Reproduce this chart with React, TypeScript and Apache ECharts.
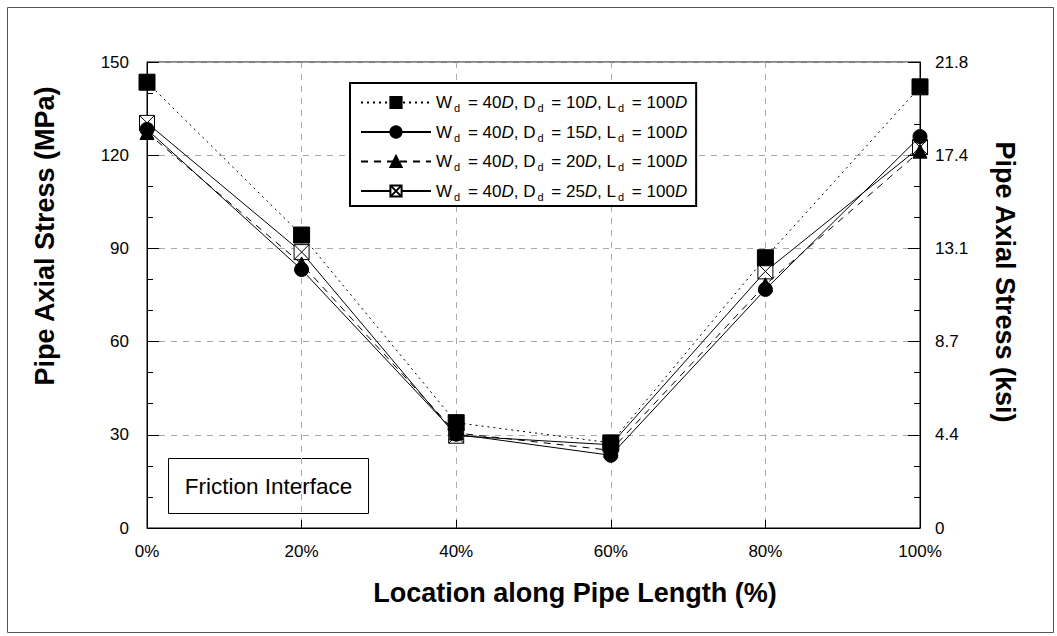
import React, { useEffect, useRef } from "react";
import * as echarts from "echarts";

const xPositions = [0, 20, 40, 60, 80, 100];
const seriesD10 = [143.5, 94.3, 33.9, 27.4, 87.0, 142.0];
const seriesD15 = [128.3, 83.2, 30.2, 23.4, 76.8, 126.0];
const seriesD20 = [127.3, 85.0, 30.6, 25.0, 78.3, 121.3];
const seriesD25 = [130.4, 88.8, 29.7, 26.8, 82.6, 122.6];
const seriesNames = [
  "W{sub|d} = 40{it|D}, D{sub|d} = 10{it|D}, L{sub|d} = 100{it|D}",
  "W{sub|d} = 40{it|D}, D{sub|d} = 15{it|D}, L{sub|d} = 100{it|D}",
  "W{sub|d} = 40{it|D}, D{sub|d} = 20{it|D}, L{sub|d} = 100{it|D}",
  "W{sub|d} = 40{it|D}, D{sub|d} = 25{it|D}, L{sub|d} = 100{it|D}",
];
const ksiLabels = ["0", "4.4", "8.7", "13.1", "17.4", "21.8"];
const xTitle = "Location along Pipe Length (%)";
const yLeftTitle = "Pipe Axial Stress (MPa)";
const yRightTitle = "Pipe Axial Stress (ksi)";
const noteText = "Friction Interface";

const boxX = "path://M0,0 L10,0 L10,10 L0,10 Z M0,0 L10,10 M10,0 L0,10";

export default function App() {
  const ref = useRef<HTMLDivElement>(null);
  useEffect(() => {
    const chart = echarts.init(ref.current!, null, { renderer: "svg" });
    const font = "Liberation Sans, Arial, sans-serif";
    const pair = (arr: number[]) => arr.map((v, i) => [xPositions[i], v]);
    const lines: any[] = [
      { data: seriesD10, symbol: "rect", size: 16, line: [2, 4], fill: "#000" },
      { data: seriesD15, symbol: "circle", size: 14, line: "solid", fill: "#000" },
      { data: seriesD20, symbol: "triangle", size: 14, line: [7, 6], fill: "#000" },
      { data: seriesD25, symbol: boxX, size: 15, line: "solid", fill: "#fff" },
    ];
    const titleFont = `bold 27px ${font}`;
    chart.setOption({
      animation: false,
      textStyle: { fontFamily: font },
      grid: {
        left: 147,
        right: 137,
        top: 62,
        bottom: 108,
        show: true,
        borderColor: "#000",
        borderWidth: 1,
      },
      legend: {
        orient: "vertical",
        left: 350,
        top: 83,
        padding: [11, 9, 4, 10],
        backgroundColor: "#fff",
        borderColor: "#000",
        borderWidth: 2,
        itemWidth: 70,
        itemHeight: 14,
        itemGap: 10,
        data: seriesNames,
        textStyle: {
          fontFamily: font,
          fontSize: 17,
          color: "#000",
          rich: {
            sub: { fontSize: 11, verticalAlign: "bottom", padding: [11, 3, 0, 2], fontFamily: font },
            it: { fontSize: 17, fontStyle: "italic", fontFamily: font },
          },
        },
      },
      xAxis: {
        type: "value",
        min: 0,
        max: 100,
        interval: 20,
        axisLine: { lineStyle: { color: "#000" } },
        axisTick: { inside: true, length: 8, lineStyle: { color: "#000" } },
        axisLabel: {
          formatter: "{value}%",
          color: "#000",
          fontSize: 17,
          margin: 15,
          fontFamily: font,
        },
        splitLine: { show: true, lineStyle: { color: "#aaa", type: [6, 6] } },
      },
      yAxis: [
        {
          type: "value",
          min: 0,
          max: 150,
          interval: 30,
          axisLine: { show: true, lineStyle: { color: "#000" } },
          axisTick: { show: true, inside: true, length: 12, lineStyle: { color: "#000" } },
          minorTick: { show: true, splitNumber: 3, length: 6, lineStyle: { color: "#000" } },
          axisLabel: { color: "#000", fontSize: 17, margin: 18, fontFamily: font },
          splitLine: { show: true, lineStyle: { color: "#aaa", type: [6, 6] } },
        },
        {
          type: "value",
          min: 0,
          max: 150,
          interval: 30,
          position: "right",
          axisLine: { show: true, lineStyle: { color: "#000" } },
          axisTick: { show: true, inside: true, length: 12, lineStyle: { color: "#000" } },
          minorTick: { show: true, splitNumber: 3, length: 6, lineStyle: { color: "#000" } },
          axisLabel: {
            color: "#000",
            fontSize: 17,
            margin: 15,
            fontFamily: font,
            formatter: (v: number) => ksiLabels[Math.round(v / 30)] ?? "",
          },
          splitLine: { show: false },
        },
      ],
      series: lines.map((s, i) => ({
        name: seriesNames[i],
        type: "line",
        data: pair(s.data),
        symbol: s.symbol,
        symbolSize: s.size,
        showSymbol: true,
        z: 10 - i,
        lineStyle: { color: "#000", width: 1, type: s.line },
        itemStyle: { color: s.fill, borderColor: "#000", borderWidth: 1, opacity: 1 },
        emphasis: { disabled: true },
      })),
      graphic: [
        {
          type: "rect",
          left: 5,
          top: 5,
          shape: { width: 1046, height: 625 },
          style: { fill: "none", stroke: "#555", lineWidth: 1 },
          silent: true,
        },
        {
          type: "text",
          x: 575,
          y: 593,
          style: { text: xTitle, font: titleFont, fill: "#000", align: "center", verticalAlign: "middle" },
        },
        {
          type: "text",
          x: 45,
          y: 236,
          rotation: Math.PI / 2,
          style: { text: yLeftTitle, font: titleFont, fill: "#000", align: "center", verticalAlign: "middle" },
        },
        {
          type: "text",
          x: 1005,
          y: 282,
          rotation: -Math.PI / 2,
          style: { text: yRightTitle, font: titleFont, fill: "#000", align: "center", verticalAlign: "middle" },
        },
        {
          type: "group",
          left: 168,
          top: 458,
          children: [
            {
              type: "rect",
              shape: { x: 0, y: 0, width: 200, height: 55 },
              style: { fill: "#fff", stroke: "#000", lineWidth: 1 },
            },
            {
              type: "text",
              x: 100,
              y: 28,
              style: {
                text: noteText,
                fill: "#000",
                font: `22.5px ${font}`,
                align: "center",
                verticalAlign: "middle",
              },
            },
          ],
        },
      ],
    });
    return () => chart.dispose();
  }, []);
  return (
    <div
      ref={ref}
      style={{ position: "fixed", left: 0, top: 0, width: 1057, height: 636, background: "#fff" }}
    />
  );
}
